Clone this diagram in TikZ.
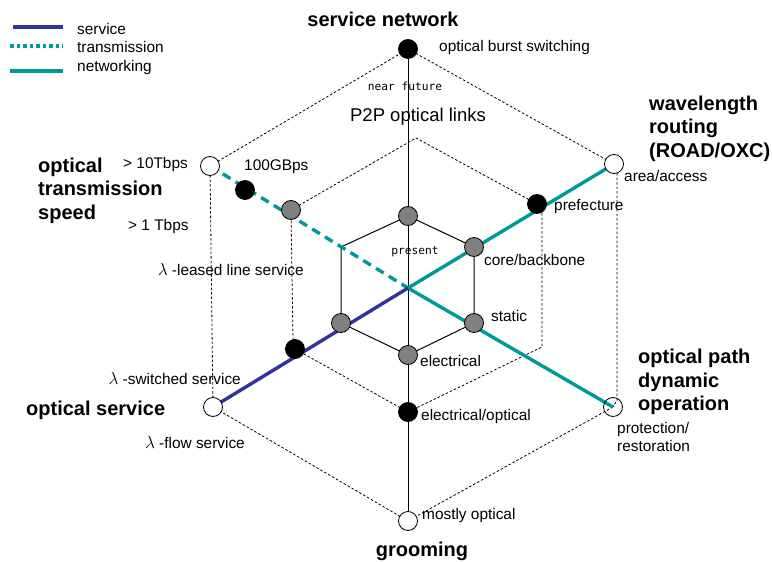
\documentclass[tikz,border=0pt]{standalone}
\usepackage{fontspec}
\setmainfont{Liberation Sans}
\newfontfamily\monofont{DejaVu Sans Mono}
\definecolor{svc}{HTML}{333399}
\definecolor{tealc}{HTML}{009999}
\definecolor{grayc}{HTML}{808080}
\newcommand{\biglam}{{\fontsize{18}{18}\selectfont$\lambda$}}
\begin{document}
\begin{tikzpicture}[x=1pt,y=-1pt,
  hexline/.style={line width=1pt},
  hexdash/.style={line width=0.8pt, dash pattern=on 2.5pt off 2pt},
  svcline/.style={svc, line width=3.4pt},
  netline/.style={tealc, line width=3.4pt},
  trline/.style={tealc, line width=3.4pt, dash pattern=on 9pt off 6pt},
  trleg/.style={tealc, line width=3.4pt, dash pattern=on 3.5pt off 3pt},
  dot/.style={circle, draw=black, line width=0.8pt, minimum size=19pt, inner sep=0pt},
  wdot/.style={dot, fill=white},
  bdot/.style={dot, fill=black},
  gdot/.style={dot, fill=grayc},
  lbl/.style={font=\fontsize{15.4}{18}\selectfont, inner sep=0pt},
  ttl/.style={font=\fontsize{20}{23.5}\selectfont\bfseries, inner sep=0pt, align=left},
  mono/.style={font=\fontsize{11.2}{13}\selectfont\monofont, inner sep=0pt},
]
\useasboundingbox (0,0) rectangle (772,562);

% coordinates
\coordinate (C) at (408,288);
\coordinate (oT) at (408,49);
\coordinate (oUR) at (614,164);
\coordinate (oLR) at (613,407);
\coordinate (oB) at (408,521);
\coordinate (oLL) at (213,407);
\coordinate (oUL) at (210,166);
\coordinate (oURb) at (617,164);
\coordinate (oLRb) at (617,400);

\coordinate (mT) at (416,138);
\coordinate (mUR) at (537,204);
\coordinate (mURb) at (542,204);
\coordinate (mLR) at (542,347);
\coordinate (mB) at (408,412);
\coordinate (mLL) at (295,349);
\coordinate (mLLb) at (293,340);
\coordinate (mUL) at (291,210);
\coordinate (tB) at (245,190);

\coordinate (iT) at (408,216);
\coordinate (iUR) at (474,247);
\coordinate (iLR) at (474,323);
\coordinate (iB) at (408,355);
\coordinate (iLL) at (341,323);
\coordinate (iUL) at (341,247);

% outer dashed hexagon
\draw[hexdash] (oT) -- (oUR);
\draw[hexdash] (oURb) -- (oLRb) -- (oLR);
\draw[hexdash] (oLR) -- (oB);
\draw[hexdash] (oB) -- (oLL);
\draw[hexdash] (oLL) -- (oUL);
\draw[hexdash] (oUL) -- (oT);

% middle dashed hexagon
\draw[hexdash] (mUL) -- (mT) -- (mUR);
\draw[hexdash] (mURb) -- (mLR) -- (mB);
\draw[hexdash] (mB) -- (mLL);
\draw[hexdash] (mLLb) -- (mUL);

% inner solid hexagon
\draw[hexline] (iT) -- (iUR) -- (iLR) -- (iB) -- (iLL) -- (iUL) -- cycle;

% axes
\draw[hexline] (oT) -- (oB);
\draw[trline] (oUL) -- (C);
\draw[netline] (C) -- (oUR);
\draw[netline] (C) -- (oLR);
\draw[svcline] (C) -- (oLL);

% circles
\node[bdot] (nOT) at (oT) {};
\node[wdot] (nOUR) at (oUR) {};
\node[dot] (nOLR) at (oLR) {};
\node[wdot] (nOB) at (oB) {};
\node[wdot] (nOLL) at (oLL) {};
\node[wdot] (nOUL) at (oUL) {};
\node[bdot] (nMUR) at (mUR) {};
\node[bdot] (nMB) at (mB) {};
\node[bdot] (nMLL) at (mLL) {};
\node[gdot] (nMUL) at (mUL) {};
\node[bdot] (nTB) at (tB) {};
\node[gdot] (nIT) at (iT) {};
\node[gdot] (nIUR) at (iUR) {};
\node[gdot] (nILR) at (iLR) {};
\node[gdot] (nIB) at (iB) {};
\node[gdot] (nILL) at (iLL) {};

% legend
\coordinate (l1a) at (13,27); \coordinate (l1b) at (63,27);
\coordinate (l2a) at (10,46); \coordinate (l2b) at (63,46);
\coordinate (l3a) at (10,71); \coordinate (l3b) at (63,71);
\draw[svcline] (l1a) -- (l1b);
\draw[trleg] (l2a) -- (l2b);
\draw[netline] (l3a) -- (l3b);
\node[lbl, anchor=west] (t1) at (77,28.5) {service};
\node[lbl, anchor=west] (t2) at (77,47) {transmission};
\node[lbl, anchor=west] (t3) at (77,68) {networking};

% titles
\node[ttl, anchor=center] (sn) at (383,19) {service network};
\node[ttl, anchor=west] (wr) at (649,128.5) {wavelength\\routing\\(ROAD/OXC)};
\node[ttl, anchor=west] (op) at (638,382) {optical path\\dynamic\\operation};
\node[ttl, anchor=center] (gr) at (422,551) {grooming};
\node[ttl, anchor=west] (os) at (26,410) {optical service};
\node[ttl, anchor=west] (ots) at (38,190.5) {optical\\transmission\\speed};

% labels
\node[lbl, anchor=west] (a1) at (439,48) {optical burst switching};
\node[mono, anchor=center] (a2) at (405,86) {near future};
\node[lbl, anchor=center, font=\fontsize{18.5}{20}\selectfont] (a3) at (418,117) {P2P optical links};
\node[lbl, anchor=west] (a4) at (624,176) {area/access};
\node[lbl, anchor=west] (a5) at (554,207) {prefecture};
\node[lbl, anchor=west] (a6) at (484,260) {core/backbone};
\node[mono, anchor=center] (a7) at (415,252) {present};
\node[lbl, anchor=west] (a8) at (491,316) {static};
\node[lbl, anchor=west] (a9) at (420,361) {electrical};
\node[lbl, anchor=west] (a10) at (421,417) {electrical/optical};
\node[lbl, anchor=west] (a11) at (422,516) {mostly optical};
\node[lbl, anchor=west, align=left] (a12) at (617,437) {protection/\\restoration};
\node[lbl, anchor=east] (a13) at (241,379) {\biglam\ -switched service};
\node[lbl, anchor=east] (a14) at (245,443) {\biglam\ -flow service};
\node[lbl, anchor=east] (a15) at (304,270) {\biglam\ -leased line service};
\node[lbl, anchor=west] (a16) at (123,165) {> 10Tbps};
\node[lbl, anchor=west] (a17) at (128,227) {> 1 Tbps};
\node[lbl, anchor=west] (a18) at (244,167) {100GBps};
\end{tikzpicture}
\end{document}
